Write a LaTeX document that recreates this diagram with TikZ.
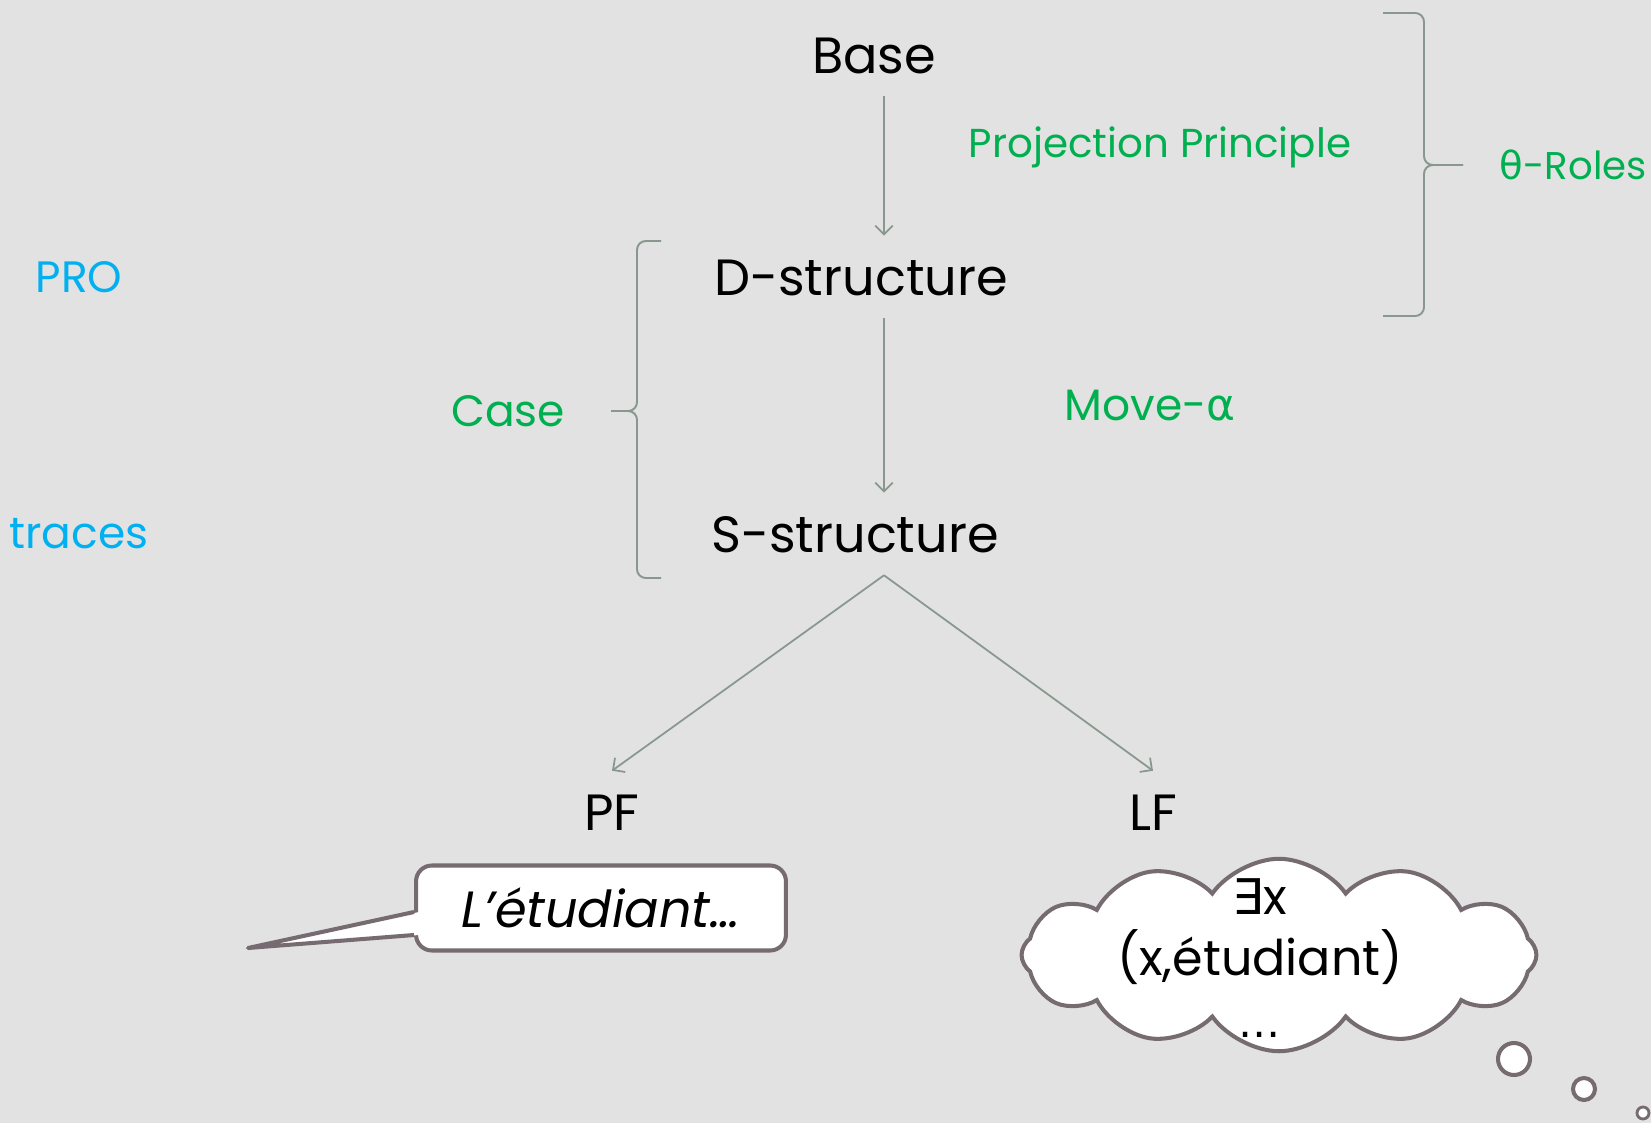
\documentclass[tikz,border=0pt]{standalone}
\usepackage{fontspec}
\setmainfont{Poppins}
\newfontfamily\symfont{DejaVu Sans}
\usepackage{tikz}
\usetikzlibrary{arrows.meta}
\usetikzlibrary{calc}
\usetikzlibrary{shapes.symbols}

\definecolor{slidebg}{HTML}{E2E2E2}
\definecolor{termgreen}{HTML}{00B050}
\definecolor{termblue}{HTML}{00B0F0}
\definecolor{linkgray}{HTML}{88988F}
\definecolor{bubbleedge}{HTML}{766B70}

\tikzset{
  level/.style={font=\fontsize{29}{34}\selectfont, text=black, inner sep=0pt,
    text height=21pt, text depth=0pt, outer sep=13pt},
  greenlabel/.style={font=\fontsize{25}{30}\selectfont, text=termgreen, inner sep=0pt},
  bluelabel/.style={font=\fontsize{25}{30}\selectfont, text=termblue, inner sep=0pt},
  link/.style={draw=linkgray, line width=1pt, -{Straight Barb[length=5pt, width=10pt]}},
  bracket/.style={draw=linkgray, line width=1.1pt, rounded corners=5pt},
  bubble/.style={draw=bubbleedge, fill=white, line width=2.3pt},
}

\begin{document}
\begin{tikzpicture}[x=0.02cm, y=-0.02cm]
    \useasboundingbox (0,0) rectangle (1651,1123);
    \fill [slidebg] (0,0) rectangle (1651,1123);
    % levels
    \node [level] (base) at (874,55) {Base};
    \node [level] (dstruct) at (861,277) {D-structure};
    \node [level] (sstruct) at (855,534) {S-structure};
    \node [level] (pf) at (612,812) {PF};
    \node [level] (lf) at (1153,812) {LF};
    \coordinate (stem) at (884,0);
    \coordinate (split) at (sstruct.south -| stem);
    \draw [link] (base.south -| stem) -- (dstruct.north -| stem);
    \draw [link] (dstruct.south -| stem) -- (sstruct.north -| stem);
    \draw [link] (split) -- (pf.north);
    \draw [link] (split) -- (lf.north);
    % labels
    \node [greenlabel, font=\fontsize{23}{28}\selectfont] (projection) at (1160,147) {Projection Principle};
    \node [greenlabel] (movealpha) at (1150,406) {Move-{\symfont α}};
    \node [greenlabel] (caselabel) at (508,411) {Case};
    \node [greenlabel, font=\fontsize{22}{26}\selectfont, anchor=east] (thetaroles) at (1647,165) {{\symfont θ}-Roles};
    \node [bluelabel] (prolabel) at (79,277) {PRO};
    \node [bluelabel] (traceslabel) at (79,534) {traces};
    % braces
    \draw [bracket] (1383,13) -- (1424,13) -- (1424,165) -- (1463,165);
    \draw [bracket] (1383,316) -- (1424,316) -- (1424,165) -- (1463,165);
    \draw [bracket] (661,241) -- (637,241) -- (637,411) -- (611,411);
    \draw [bracket] (661,578) -- (637,578) -- (637,411) -- (611,411);
    % speech bubble
    \node [bubble, rounded corners=9pt, minimum width=7.4cm, minimum height=1.7cm,
      font=\fontsize{29}{34}\selectfont\itshape] (pfnote) at (601,908) {L’étudiant…};
    \coordinate (tailtip) at (248,948);
    \fill [white] ($(pfnote.west)+(5,4)$) -- (tailtip) -- ($(pfnote.west)+(5,27)$) -- cycle;
    \draw [bubbleedge, line width=2.3pt, line join=round] ($(pfnote.west)+(0,4)$) -- (tailtip) -- ($(pfnote.west)+(0,27)$);
    % thought cloud
    \node [bubble, cloud, cloud puffs=12, cloud puff arc=110, cloud ignores aspect,
      minimum width=10.3cm, minimum height=3.85cm] (lfcloud) at (1279,955) {};
    \node [font=\fontsize{28}{33}\selectfont, align=center, inner sep=0pt] (lfnote) at (1260,958)
      {{\symfont ∃}x\\[2pt](x,étudiant)\\[2pt]{\symfont\fontsize{24}{28}\selectfont …}};
    \node [bubble, circle, minimum size=0.64cm, inner sep=0pt] (puffa) at (1514,1059) {};
    \node [bubble, circle, minimum size=0.44cm, inner sep=0pt] (puffb) at (1584,1089) {};
    \node [bubble, circle, minimum size=0.24cm, inner sep=0pt, line width=1.6pt] (puffc) at (1643,1113) {};
\end{tikzpicture}
\end{document}
